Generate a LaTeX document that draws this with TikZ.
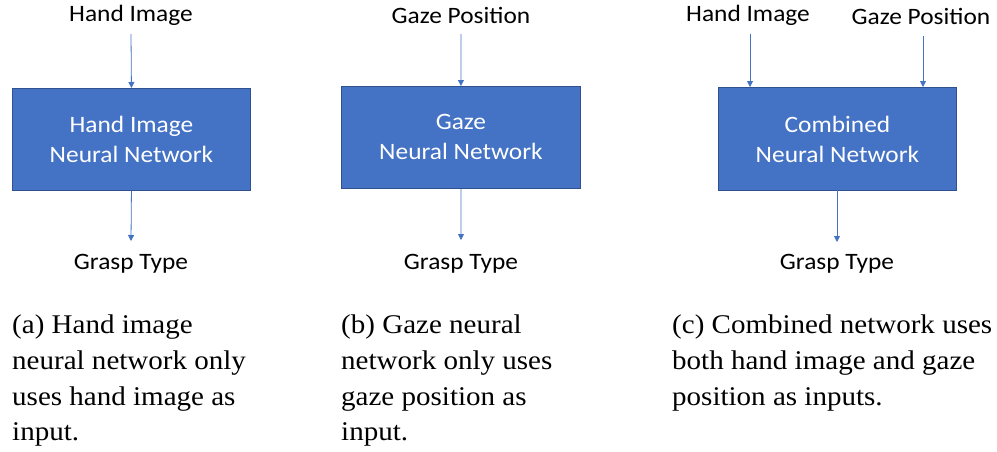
\documentclass[tikz,border=0pt]{standalone}
\usepackage{fontspec}
\setmainfont{Liberation Serif}[FakeStretch=1.075]
\newfontfamily\cali{Carlito}[FakeStretch=1.08]
\usetikzlibrary{arrows.meta}
\definecolor{boxfill}{HTML}{4472C4}
\definecolor{boxline}{HTML}{2F528F}
\begin{document}
\begin{tikzpicture}[x=1pt,y=-1pt,
  nnbox/.style={draw=boxline, line width=0.9pt, fill=boxfill, text=white, inner sep=0pt, anchor=north west,
    font=\cali\fontsize{23.5}{30}\selectfont, align=center},
  lbl/.style={inner sep=0pt, font=\cali\fontsize{23.5}{27}\selectfont},
  captxt/.style={inner sep=0pt, anchor=base west, font=\fontsize{27}{30}\selectfont},
  arr/.style={draw=boxfill, line width=0.8pt, -{Triangle[width=6pt,length=6pt]}}]
\useasboundingbox (0,0) rectangle (997,451);
% (a)
\node[nnbox, minimum width=238, minimum height=102] (boxa) at (12,88) {Hand Image\\Neural Network};
\node[lbl] (ina) at (131,15) {Hand Image};
\node[lbl] (outa) at (131,264) {Grasp Type};
\coordinate (ina0) at (131,34);
\coordinate (outa1) at (131,241);
\draw[arr] (ina0) -- (boxa.north);
\draw[arr] (boxa.south) -- (outa1);
% (b)
\node[nnbox, minimum width=239, minimum height=102] (boxb) at (341,86) {Gaze\\Neural Network};
\node[lbl] (inb) at (461,15) {Gaze Position};
\node[lbl] (outb) at (461,264) {Grasp Type};
\coordinate (inb0) at (461,34);
\coordinate (outb1) at (461,240);
\draw[arr] (inb0) -- (boxb.north);
\draw[arr] (boxb.south) -- (outb1);
% (c)
\node[nnbox, minimum width=238, minimum height=103] (boxc) at (718,87) {Combined\\Neural Network};
\node[lbl] (inc1) at (748,15) {Hand Image};
\node[lbl] (inc2) at (921,16) {Gaze Position};
\node[lbl] (outc) at (837,264) {Grasp Type};
\coordinate (inc1a) at (750,34);
\coordinate (inc1b) at (750,87);
\coordinate (inc2a) at (923,36);
\coordinate (inc2b) at (923,87);
\coordinate (outc0) at (837,190);
\coordinate (outc1) at (837,242);
\draw[arr] (inc1a) -- (inc1b);
\draw[arr] (inc2a) -- (inc2b);
\draw[arr] (outc0) -- (outc1);
% captions
\node[captxt] (ca1) at (12,333) {(a) Hand image};
\node[captxt] (ca2) at (12,369) {neural network only};
\node[captxt] (ca3) at (12,405) {uses hand image as};
\node[captxt] (ca4) at (12,440) {input.};
\node[captxt] (cb1) at (341,333) {(b) Gaze neural};
\node[captxt] (cb2) at (341,369) {network only uses};
\node[captxt] (cb3) at (341,405) {gaze position as};
\node[captxt] (cb4) at (341,440) {input.};
\node[captxt] (cc1) at (672,333) {(c) Combined network uses};
\node[captxt] (cc2) at (672,369) {both hand image and gaze};
\node[captxt] (cc3) at (672,405) {position as inputs.};
\end{tikzpicture}
\end{document}
